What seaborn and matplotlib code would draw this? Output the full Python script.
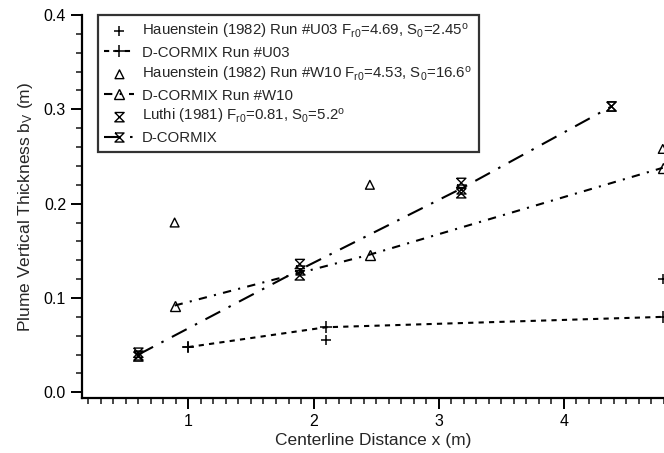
import numpy as np
import pandas as pd
import matplotlib
matplotlib.use("Agg")
import matplotlib.pyplot as plt
import seaborn as sns
from matplotlib.ticker import MultipleLocator

# Hauenstein (1982) Run #U03 - data and D-CORMIX prediction
u03_x = [1.0, 2.1, 4.79]
u03_y = [0.048, 0.055, 0.120]
u03_model_x = [1.0, 2.1, 4.79]
u03_model_y = [0.048, 0.069, 0.080]

# Hauenstein (1982) Run #W10
w10_x = [0.89, 2.45, 4.79]
w10_y = [0.180, 0.220, 0.258]
w10_model_x = [0.89, 2.45, 4.79]
w10_model_y = [0.092, 0.146, 0.238]

# Luthi (1981)
luthi_x = [0.6, 0.6, 1.89, 1.89, 3.18, 3.18, 4.38]
luthi_y = [0.038, 0.042, 0.124, 0.136, 0.211, 0.222, 0.303]
luthi_model_x = [0.6, 1.89, 3.18, 4.38]
luthi_model_y = [0.040, 0.130, 0.216, 0.303]

labels = [
    r"Hauenstein (1982) Run #U03 F$_{r0}$=4.69, S$_0$=2.45$^o$",
    "D-CORMIX Run #U03",
    r"Hauenstein (1982) Run #W10 F$_{r0}$=4.53, S$_0$=16.6$^o$",
    "D-CORMIX Run #W10",
    r"Luthi (1981) F$_{r0}$=0.81, S$_0$=5.2$^o$",
    "D-CORMIX",
]

sns.set_style("ticks")
plt.rcParams['font.family'] = ['Liberation Sans', 'DejaVu Sans']
plt.rcParams['mathtext.fontset'] = 'custom'
plt.rcParams['mathtext.rm'] = 'Liberation Sans'
plt.rcParams['mathtext.it'] = 'Liberation Sans'
plt.rcParams['mathtext.default'] = 'regular'

# hourglass marker
hourglass = [(-1, 1), (1, 1), (-1, -1), (1, -1), (-1, 1)]

fig = plt.figure(figsize=(6.64, 4.53), dpi=100)
ax = fig.add_axes([0.1235, 0.1214, 0.8765, 0.8456])

lw = 1.5
sns.scatterplot(x=u03_x, y=u03_y, marker='+', s=60, color='k', linewidth=1.1,
                label=labels[0], ax=ax)
sns.lineplot(x=u03_model_x, y=u03_model_y, color='k', lw=lw, linestyle=(0, (2.5, 2.5)),
             marker='+', markersize=8, mec='k', mew=1.1, label=labels[1], ax=ax)
sns.scatterplot(x=w10_x, y=w10_y, marker='^', s=40, facecolor='none', edgecolor='k',
                linewidth=1.0, label=labels[2], ax=ax)
sns.lineplot(x=w10_model_x, y=w10_model_y, color='k', lw=lw, linestyle=(0, (4, 3.5, 1, 3.5)),
             marker='^', markersize=6.5, mfc='none', mec='k', mew=1.0, label=labels[3], ax=ax)
sns.scatterplot(x=luthi_x, y=luthi_y, marker=hourglass, s=45, facecolor='none',
                edgecolor='k', linewidth=1.0, label=labels[4], ax=ax)
sns.lineplot(x=luthi_model_x, y=luthi_model_y, color='k', lw=lw,
             linestyle=(0, (8, 4.5, 1.2, 4.5)), marker=hourglass, markersize=6.5,
             mfc='none', mec='k', mew=1.0, label=labels[5], ax=ax)

ax.set_xlim(0.15, 4.8)
ax.set_ylim(-0.006, 0.4)
ax.xaxis.set_major_locator(MultipleLocator(1))
ax.xaxis.set_minor_locator(MultipleLocator(0.1))
ax.yaxis.set_major_locator(MultipleLocator(0.1))
ax.yaxis.set_minor_locator(MultipleLocator(0.02))
ax.set_yticks([0.0, 0.1, 0.2, 0.3, 0.4])
ax.set_yticklabels(["0.0", "0.1", "0.2", "0.3", "0.4"])
ax.tick_params(axis='both', which='major', direction='out', length=8, width=1.4,
               labelsize=11.5, colors='k')
ax.tick_params(axis='both', which='minor', direction='out', length=4.5, width=1.2)

for side in ['top', 'right']:
    ax.spines[side].set_visible(False)
for side in ['left', 'bottom']:
    ax.spines[side].set_linewidth(1.6)
    ax.spines[side].set_color('k')

ax.set_xlabel("Centerline Distance x (m)", fontsize=12.5, labelpad=3)
ax.set_ylabel(r"Plume Vertical Thickness b$_V$ (m)", fontsize=12.5, labelpad=6)

handles, labs = ax.get_legend_handles_labels()
order = [labs.index(l) for l in labels]
leg = ax.legend([handles[i] for i in order], [labs[i] for i in order],
                loc='upper left', bbox_to_anchor=(0.027, 1.0), fontsize=10.8,
                frameon=True, fancybox=False, edgecolor='k', handlelength=2.0,
                handletextpad=0.5, labelspacing=0.33, borderpad=0.45, borderaxespad=0)
leg.get_frame().set_linewidth(1.6)

fig.savefig("out.png", dpi=100)
